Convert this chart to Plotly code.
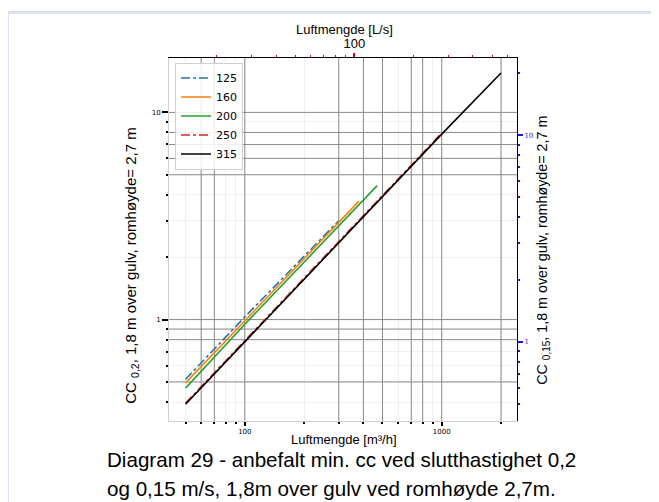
import numpy as np
import plotly.graph_objects as go

# ---- data ----
series_names = ["125", "160", "200", "250", "315"]
x_125 = [50, 100, 300]
y_125 = [0.515, 1.03, 3.0]
x_160 = [50, 100, 380]
y_160 = [0.495, 0.99, 3.73]
x_200 = [50, 100, 470]
y_200 = [0.467, 0.95, 4.43]
x_250 = [50, 100, 1000]
y_250 = [0.395, 0.79, 7.95]
x_315 = [50, 100, 1000, 2000]
y_315 = [0.39, 0.78, 7.85, 15.5]

# axis ticks
x_major = [100, 1000]
x_minor = [50, 60, 70, 80, 90, 200, 300, 400, 500, 600, 700, 800, 900, 2000]
top_major = [100]
top_minor = [20, 30, 40, 50, 60, 70, 80, 90, 200, 300, 400, 500, 600]
y_major = [1, 10]
y_minor = [0.4, 0.5, 0.6, 0.7, 0.8, 0.9, 2, 3, 4, 5, 6, 7, 8, 9]
y2_minor = [0.5, 0.6, 0.7, 0.8, 0.9, 2, 3, 4, 5, 6, 7, 8, 9, 20]
dark_x_grid = [60, 70, 100, 300, 400, 500, 700, 800, 1000, 2000]
dark_y_grid = [0.5, 0.8, 0.9, 1, 5, 6, 7, 8, 10]

colors = ["#1f77b4", "#ff7f0e", "#2ca02c", "#d62728", "#000000"]
dashes = ["dashdot", "solid", "solid", "dashdot", "solid"]
xs = [x_125, x_160, x_200, x_250, x_315]
ys = [y_125, y_160, y_200, y_250, y_315]

X_RANGE = [41.2, 2411]
Y_RANGE = [0.324, 18.3]
Y2_RANGE = [0.413, 23.7]
LS_FACTOR = 3.6

# page body has an 8px margin; plot area: 348 x 362.5 px
PW, PH = 348.0, 362.5
OX, OY = 169, 421  # plot-area left / bottom in page pixels


def px(x):
    return (x - OX) / PW


def py(y):
    return (OY - y) / PH


fig = go.Figure()
for name, x, y, c, d in zip(series_names, xs, ys, colors, dashes):
    fig.add_trace(go.Scatter(x=x, y=y, mode="lines", name=name,
                             line=dict(color=c, width=1.6, dash=d)))

# invisible trace to activate secondary axes
fig.add_trace(go.Scatter(x=[100], y=[1], xaxis="x2", yaxis="y2", mode="markers",
                         marker=dict(opacity=0), showlegend=False, hoverinfo="skip"))

small = dict(family="DejaVu Sans", size=7, color="#000")
GRID_DARK = dict(color="#8a8a8a", width=1)
shapes = []
for v in dark_x_grid:
    shapes.append(dict(type="line", xref="x", yref="y", x0=v, x1=v,
                       y0=Y_RANGE[0], y1=Y_RANGE[1], line=GRID_DARK, layer="between"))
for v in dark_y_grid:
    shapes.append(dict(type="line", xref="x", yref="y", x0=X_RANGE[0], x1=X_RANGE[1], y0=v, y1=v,
                       line=GRID_DARK, layer="between"))
# outer frame
shapes.append(dict(type="line", xref="paper", yref="paper", x0=px(7.5), x1=px(700),
                   y0=py(13), y1=py(13), line=dict(color="#dbe1f2", width=3)))
shapes.append(dict(type="line", xref="paper", yref="paper", x0=px(7.5), x1=px(7.5),
                   y0=py(13), y1=py(560), line=dict(color="#dbe1f2", width=3)))

fig.update_layout(
    width=651, height=494,
    margin=dict(l=161, r=142, t=50, b=81),
    paper_bgcolor="white", plot_bgcolor="white",
    font=dict(family="Liberation Sans, Arial", color="#000"),
    showlegend=True,
    legend=dict(x=px(175), y=py(63), xanchor="left", yanchor="top",
                bgcolor="rgba(255,255,255,0.85)", bordercolor="#d0d0d0", borderwidth=1,
                font=dict(family="DejaVu Sans", size=11), tracegroupgap=0,
                itemwidth=30),
    xaxis=dict(type="log", range=[np.log10(X_RANGE[0]), np.log10(X_RANGE[1])],
               tickmode="array", tickvals=x_major, ticktext=[str(v) for v in x_major],
               tickfont=small, ticks="outside", ticklen=4, tickwidth=2, tickcolor="#000",
               showgrid=True, gridcolor="#ededed", gridwidth=1,
               minor=dict(tickmode="array", tickvals=x_minor, ticks="outside", ticklen=2,
                          tickwidth=1.5, tickcolor="#000", showgrid=True, gridcolor="#efefef"),
               showline=True, linecolor="#cfcfcf", linewidth=1, zeroline=False),
    xaxis2=dict(type="log", overlaying="x", side="top", anchor="y",
                range=[np.log10(X_RANGE[0] / LS_FACTOR), np.log10(X_RANGE[1] / LS_FACTOR)],
                tickmode="array", tickvals=top_major, ticktext=[str(v) for v in top_major],
                tickfont=dict(family="Liberation Sans, Arial", size=13, color="#000"),
                ticks="outside", ticklen=4, tickwidth=2, tickcolor="#e00000",
                minor=dict(tickmode="array", tickvals=top_minor, ticks="outside", ticklen=2,
                           tickwidth=1, tickcolor="#e00000", showgrid=False),
                showgrid=False, showline=True, linecolor="#000", linewidth=1, zeroline=False),
    yaxis=dict(type="log", range=[np.log10(Y_RANGE[0]), np.log10(Y_RANGE[1])],
               tickmode="array", tickvals=y_major, ticktext=[str(v) for v in y_major],
               tickfont=small, ticks="outside", ticklen=6, tickwidth=2, tickcolor="#000",
               showgrid=True, gridcolor="#ededed",
               minor=dict(tickmode="array", tickvals=y_minor, ticks="outside", ticklen=2,
                          tickwidth=1.5, tickcolor="#000", showgrid=True, gridcolor="#efefef"),
               showline=True, linecolor="#cfcfcf", linewidth=1, zeroline=False),
    yaxis2=dict(type="log", overlaying="y", side="right", anchor="x",
                range=[np.log10(Y2_RANGE[0]), np.log10(Y2_RANGE[1])],
                tickmode="array", tickvals=y_major, ticktext=[str(v) for v in y_major],
                tickfont=dict(family="DejaVu Serif", size=7, color="#1a1adf"),
                ticks="outside", ticklen=5, tickwidth=1.5, tickcolor="#1a1adf",
                minor=dict(tickmode="array", tickvals=y2_minor, ticks="outside", ticklen=2,
                           tickwidth=1.5, tickcolor="#1a1adf", showgrid=False),
                showgrid=False, showline=True, linecolor="#000", linewidth=1, zeroline=False),
    shapes=shapes,
    annotations=[
        dict(text="Luftmengde [L/s]", xref="paper", yref="paper", x=px(344), y=py(30),
             showarrow=False, font=dict(size=13), xanchor="center", yanchor="middle"),
        dict(text="Luftmengde [m³/h]", xref="paper", yref="paper", x=px(344), y=py(439),
             showarrow=False, font=dict(size=13), xanchor="center", yanchor="middle"),
        dict(text="CC <sub>0,2</sub>, 1,8 m over gulv, romhøyde= 2,7 m", xref="paper", yref="paper",
             x=px(132), y=py(266), textangle=-90, showarrow=False,
             font=dict(size=15), xanchor="center", yanchor="middle"),
        dict(text="CC <sub>0,15</sub>, 1,8 m over gulv, romhøyde= 2,7 m", xref="paper", yref="paper",
             x=px(543), y=py(251), textangle=-90, showarrow=False,
             font=dict(size=14.3), xanchor="center", yanchor="middle"),
        dict(text="Diagram 29 - anbefalt min. cc ved slutthastighet 0,2",
             xref="paper", yref="paper", x=px(105), y=py(459),
             showarrow=False, font=dict(size=20.6), xanchor="left", yanchor="middle", align="left"),
        dict(text="og 0,15 m/s, 1,8m over gulv ved romhøyde 2,7m.",
             xref="paper", yref="paper", x=px(105), y=py(488),
             showarrow=False, font=dict(size=20.6), xanchor="left", yanchor="middle", align="left"),
    ],
)

fig.write_html("out.html")
